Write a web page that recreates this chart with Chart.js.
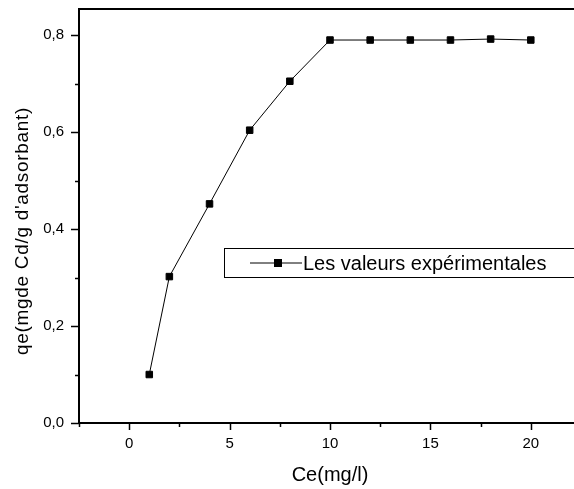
<!DOCTYPE html>
<html>
<head>
<meta charset="utf-8">
<script src="https://cdn.jsdelivr.net/npm/chart.js@4/dist/chart.umd.min.js"></script>
<style>
  html, body { margin: 0; padding: 0; background: #fff; }
  #wrap { width: 574px; height: 489px; overflow: hidden; position: relative; }
</style>
</head>
<body>
<div id="wrap"><canvas id="chart" width="600" height="489"></canvas></div>
<script>
// Ce (mg/l) and qe values
const ceValues = [1, 2, 4, 6, 8, 10, 12, 14, 16, 18, 20];
const qeValues = [0.1, 0.302, 0.452, 0.604, 0.705, 0.79, 0.79, 0.79, 0.79, 0.792, 0.79];
const xTicks = [0, 5, 10, 15, 20];
const yTicks = [0, 0.2, 0.4, 0.6, 0.8];
const seriesLabel = 'Les valeurs expérimentales';
const xTitle = 'Ce(mg/l)';
const yTitle = "qe(mgde Cd/g d'adsorbant)";

const points = ceValues.map((c, i) => ({ x: c, y: qeValues[i] }));
const font = 'Liberation Sans, Arial, sans-serif';

// frame, tick marks, y title and the boxed legend, Origin style
const originFrame = {
  id: 'originFrame',
  afterDraw(chart) {
    const ctx = chart.ctx;
    const a = chart.chartArea;
    const x = chart.scales.x;
    const y = chart.scales.y;
    ctx.save();
    ctx.strokeStyle = '#000';
    ctx.lineWidth = 2;
    ctx.strokeRect(a.left, a.top, a.right - a.left, a.bottom - a.top);

    ctx.lineWidth = 1.5;
    for (let v = -2.5; v <= 22.5; v += 2.5) {
      const px = Math.round(x.getPixelForValue(v)) + 0.5;
      const len = (v % 5 === 0) ? 7 : 4;
      ctx.beginPath();
      ctx.moveTo(px, a.bottom);
      ctx.lineTo(px, a.bottom + len);
      ctx.stroke();
    }
    for (let k = 0; k <= 8; k++) {
      const py = Math.round(y.getPixelForValue(k / 10)) + 0.5;
      const len = (k % 2 === 0) ? 8 : 4;
      ctx.beginPath();
      ctx.moveTo(a.left, py);
      ctx.lineTo(a.left - len, py);
      ctx.stroke();
    }

    // y axis title, a bit wider spaced like the original
    ctx.fillStyle = '#000';
    ctx.save();
    ctx.translate(23, 231);
    ctx.rotate(-Math.PI / 2);
    ctx.font = '19px ' + font;
    ctx.letterSpacing = '0.7px';
    ctx.textAlign = 'center';
    ctx.textBaseline = 'middle';
    ctx.fillText(yTitle, 0, 0);
    ctx.restore();

    // legend box
    const bx = 224, by = 248, bw = 400, bh = 29;
    ctx.lineWidth = 1;
    ctx.strokeRect(bx + 0.5, by + 0.5, bw, bh);
    const ly = by + bh / 2 + 0.5;
    ctx.beginPath();
    ctx.moveTo(250, ly);
    ctx.lineTo(302, ly);
    ctx.stroke();
    ctx.fillRect(274, ly - 4, 8, 8);
    ctx.font = '20px ' + font;
    ctx.textBaseline = 'middle';
    ctx.fillText(seriesLabel, 303, ly + 1);
    ctx.restore();
  }
};

new Chart(document.getElementById('chart').getContext('2d'), {
  type: 'scatter',
  data: {
    datasets: [{
      label: seriesLabel,
      data: points,
      showLine: true,
      borderColor: '#000',
      borderWidth: 1,
      backgroundColor: '#000',
      pointStyle: 'rect',
      pointRadius: 4.6,
      pointBorderWidth: 1,
      pointBorderColor: '#000'
    }]
  },
  options: {
    responsive: false,
    devicePixelRatio: 1,
    animation: false,
    layout: { padding: { top: 9, right: 19, left: 0, bottom: 0 } },
    plugins: {
      legend: { display: false },
      tooltip: { enabled: false }
    },
    scales: {
      x: {
        type: 'linear',
        min: -2.5,
        max: 22.5,
        afterBuildTicks(scale) { scale.ticks = xTicks.map(v => ({ value: v })); },
        afterFit(scale) {
          scale.height = 66;
          scale.paddingLeft = 0;
          scale.paddingRight = 0;
        },
        grid: { display: false, drawTicks: false },
        border: { display: false },
        ticks: {
          padding: 12,
          color: '#000',
          font: { family: font, size: 15 }
        },
        title: {
          display: true,
          text: xTitle,
          color: '#000',
          font: { family: font, size: 20 },
          padding: { top: 4, bottom: 2 }
        }
      },
      y: {
        type: 'linear',
        min: 0,
        max: 0.854,
        afterBuildTicks(scale) { scale.ticks = yTicks.map(v => ({ value: v })); },
        afterFit(scale) {
          scale.width = 79;
          scale.paddingTop = 0;
          scale.paddingBottom = 0;
        },
        grid: { display: false, drawTicks: false },
        border: { display: false },
        ticks: {
          padding: 15,
          color: '#000',
          font: { family: font, size: 15 },
          callback: (v) => v.toFixed(1).replace('.', ',')
        },
        title: { display: false }
      }
    }
  },
  plugins: [originFrame]
});
</script>
</body>
</html>
